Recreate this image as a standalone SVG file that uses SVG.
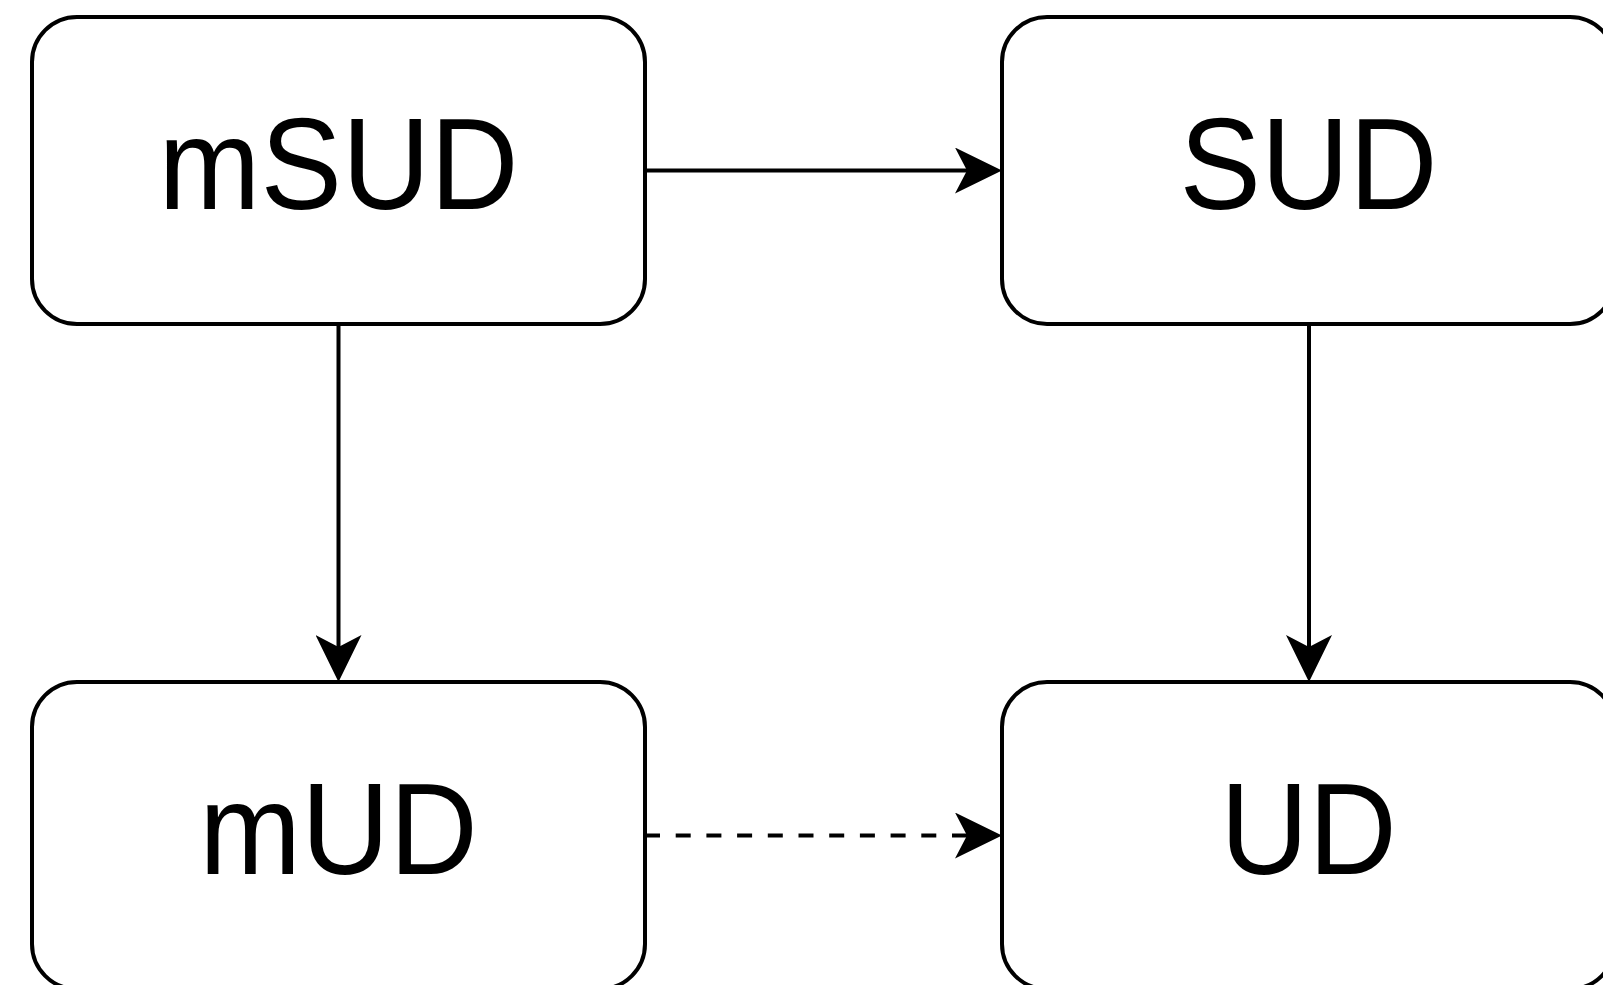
<svg xmlns="http://www.w3.org/2000/svg" width="1603" height="985" viewBox="0 0 1603 985">
  <style>
    .box { fill: #ffffff; stroke: #000000; stroke-width: 4; }
    .label { font-family: "Liberation Sans", Arial, Helvetica, sans-serif; font-size: 130px; fill: #000000; text-anchor: middle; }
    .edge { fill: none; stroke: #000000; stroke-width: 4; }
    .dashed { stroke-dasharray: 15 15.7; }
  </style>
  <defs>
    <!-- open-notch arrowhead; reference point sits at the notch so the line ends inside the head -->
    <marker id="arrow" markerUnits="userSpaceOnUse" markerWidth="48" markerHeight="46" refX="12" refY="23" orient="auto" viewBox="0 0 48 46">
      <path d="M47,23 L0,0 L12,23 L0,46 Z" fill="#000000"/>
    </marker>
  </defs>
  <rect width="1603" height="985" fill="#ffffff"/>

  <g id="connectors">
    <!-- mSUD -> SUD -->
    <path class="edge" d="M645,170.5 L967,170.5" marker-end="url(#arrow)"/>
    <!-- mSUD -> mUD -->
    <path class="edge" d="M338.5,324 L338.5,647" marker-end="url(#arrow)"/>
    <!-- SUD -> UD -->
    <path class="edge" d="M1309,324 L1309,647" marker-end="url(#arrow)"/>
    <!-- mUD -> UD (dashed) -->
    <path class="edge dashed" d="M645,835.5 L967,835.5" marker-end="url(#arrow)"/>
  </g>

  <g id="node-msud">
    <rect class="box" x="32" y="17" width="613" height="307" rx="45" ry="45"/>
    <text class="label" transform="translate(338.5,209) scale(0.94,1)">mSUD</text>
  </g>
  <g id="node-sud">
    <rect class="box" x="1002" y="17" width="613" height="307" rx="45" ry="45"/>
    <text class="label" transform="translate(1308.5,209) scale(0.94,1)">SUD</text>
  </g>
  <g id="node-mud">
    <rect class="box" x="32" y="682" width="613" height="307" rx="45" ry="45"/>
    <text class="label" transform="translate(338.5,874) scale(0.94,1)">mUD</text>
  </g>
  <g id="node-ud">
    <rect class="box" x="1002" y="682" width="613" height="307" rx="45" ry="45"/>
    <text class="label" transform="translate(1308.5,874) scale(0.94,1)">UD</text>
  </g>
</svg>
